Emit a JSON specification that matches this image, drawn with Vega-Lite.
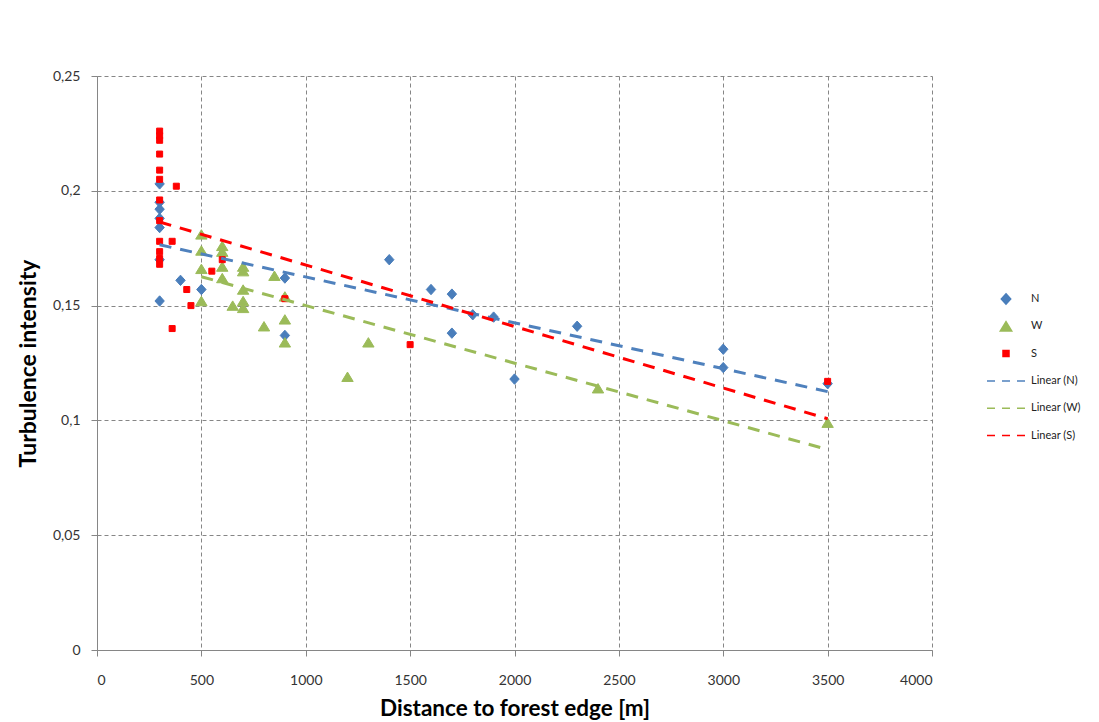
{
  "$schema": "https://vega.github.io/schema/vega-lite/v6.json",
  "width": 835,
  "height": 574,
  "autosize": {"type": "none"},
  "padding": {"left": 97, "top": 76, "right": 167, "bottom": 72},
  "background": "white",
  "config": {
    "view": {"stroke": null},
    "font": "Lato",
    "locale": {"number": {"decimal": ",", "thousands": ".", "grouping": [3], "currency": ["", ""]}},
    "axis": {
      "domainColor": "#868686",
      "tickColor": "#868686",
      "gridColor": "#868686",
      "gridDash": [4, 3],
      "gridWidth": 1,
      "labelFont": "Lato",
      "labelFontSize": 14,
      "labelColor": "#333333",
      "titleFont": "Lato",
      "titleFontWeight": "bold",
      "titleFontSize": 23,
      "titleColor": "#000000"
    },
    "legend": {
      "orient": "none",
      "legendX": 898,
      "legendY": 212,
      "padding": 0,
      "symbolSize": 400,
      "symbolStrokeWidth": 1.5,
      "labelFont": "Lato",
      "labelFontSize": 11,
      "labelColor": "#222222",
      "labelOffset": 14,
      "rowPadding": 7.3,
      "gridAlign": "all",
      "title": null
    }
  },
  "data": {
    "values": [
      {"series": "N", "trend": "Linear (N)", "x": 300, "y": 0.203},
      {"series": "N", "trend": "Linear (N)", "x": 300, "y": 0.195},
      {"series": "N", "trend": "Linear (N)", "x": 300, "y": 0.192},
      {"series": "N", "trend": "Linear (N)", "x": 300, "y": 0.188},
      {"series": "N", "trend": "Linear (N)", "x": 300, "y": 0.184},
      {"series": "N", "trend": "Linear (N)", "x": 300, "y": 0.170},
      {"series": "N", "trend": "Linear (N)", "x": 300, "y": 0.152},
      {"series": "N", "trend": "Linear (N)", "x": 400, "y": 0.161},
      {"series": "N", "trend": "Linear (N)", "x": 500, "y": 0.157},
      {"series": "N", "trend": "Linear (N)", "x": 900, "y": 0.162},
      {"series": "N", "trend": "Linear (N)", "x": 900, "y": 0.137},
      {"series": "N", "trend": "Linear (N)", "x": 1400, "y": 0.170},
      {"series": "N", "trend": "Linear (N)", "x": 1600, "y": 0.157},
      {"series": "N", "trend": "Linear (N)", "x": 1700, "y": 0.155},
      {"series": "N", "trend": "Linear (N)", "x": 1700, "y": 0.138},
      {"series": "N", "trend": "Linear (N)", "x": 1800, "y": 0.146},
      {"series": "N", "trend": "Linear (N)", "x": 1900, "y": 0.145},
      {"series": "N", "trend": "Linear (N)", "x": 2000, "y": 0.118},
      {"series": "N", "trend": "Linear (N)", "x": 2300, "y": 0.141},
      {"series": "N", "trend": "Linear (N)", "x": 3000, "y": 0.131},
      {"series": "N", "trend": "Linear (N)", "x": 3000, "y": 0.123},
      {"series": "N", "trend": "Linear (N)", "x": 3500, "y": 0.116},
      {"series": "W", "trend": "Linear (W)", "x": 500, "y": 0.181},
      {"series": "W", "trend": "Linear (W)", "x": 500, "y": 0.174},
      {"series": "W", "trend": "Linear (W)", "x": 500, "y": 0.166},
      {"series": "W", "trend": "Linear (W)", "x": 500, "y": 0.152},
      {"series": "W", "trend": "Linear (W)", "x": 600, "y": 0.176},
      {"series": "W", "trend": "Linear (W)", "x": 600, "y": 0.1735},
      {"series": "W", "trend": "Linear (W)", "x": 600, "y": 0.167},
      {"series": "W", "trend": "Linear (W)", "x": 600, "y": 0.162},
      {"series": "W", "trend": "Linear (W)", "x": 650, "y": 0.150},
      {"series": "W", "trend": "Linear (W)", "x": 700, "y": 0.167},
      {"series": "W", "trend": "Linear (W)", "x": 700, "y": 0.165},
      {"series": "W", "trend": "Linear (W)", "x": 700, "y": 0.157},
      {"series": "W", "trend": "Linear (W)", "x": 700, "y": 0.152},
      {"series": "W", "trend": "Linear (W)", "x": 700, "y": 0.149},
      {"series": "W", "trend": "Linear (W)", "x": 800, "y": 0.141},
      {"series": "W", "trend": "Linear (W)", "x": 850, "y": 0.163},
      {"series": "W", "trend": "Linear (W)", "x": 900, "y": 0.154},
      {"series": "W", "trend": "Linear (W)", "x": 900, "y": 0.144},
      {"series": "W", "trend": "Linear (W)", "x": 900, "y": 0.134},
      {"series": "W", "trend": "Linear (W)", "x": 1200, "y": 0.119},
      {"series": "W", "trend": "Linear (W)", "x": 1300, "y": 0.134},
      {"series": "W", "trend": "Linear (W)", "x": 2400, "y": 0.114},
      {"series": "W", "trend": "Linear (W)", "x": 3500, "y": 0.099},
      {"series": "S", "trend": "Linear (S)", "x": 300, "y": 0.226},
      {"series": "S", "trend": "Linear (S)", "x": 300, "y": 0.224},
      {"series": "S", "trend": "Linear (S)", "x": 300, "y": 0.222},
      {"series": "S", "trend": "Linear (S)", "x": 300, "y": 0.216},
      {"series": "S", "trend": "Linear (S)", "x": 300, "y": 0.209},
      {"series": "S", "trend": "Linear (S)", "x": 300, "y": 0.205},
      {"series": "S", "trend": "Linear (S)", "x": 300, "y": 0.196},
      {"series": "S", "trend": "Linear (S)", "x": 300, "y": 0.187},
      {"series": "S", "trend": "Linear (S)", "x": 300, "y": 0.178},
      {"series": "S", "trend": "Linear (S)", "x": 300, "y": 0.1735},
      {"series": "S", "trend": "Linear (S)", "x": 300, "y": 0.1705},
      {"series": "S", "trend": "Linear (S)", "x": 300, "y": 0.168},
      {"series": "S", "trend": "Linear (S)", "x": 360, "y": 0.178},
      {"series": "S", "trend": "Linear (S)", "x": 360, "y": 0.140},
      {"series": "S", "trend": "Linear (S)", "x": 380, "y": 0.202},
      {"series": "S", "trend": "Linear (S)", "x": 430, "y": 0.157},
      {"series": "S", "trend": "Linear (S)", "x": 450, "y": 0.150},
      {"series": "S", "trend": "Linear (S)", "x": 550, "y": 0.165},
      {"series": "S", "trend": "Linear (S)", "x": 600, "y": 0.170},
      {"series": "S", "trend": "Linear (S)", "x": 900, "y": 0.153},
      {"series": "S", "trend": "Linear (S)", "x": 1500, "y": 0.133},
      {"series": "S", "trend": "Linear (S)", "x": 3500, "y": 0.117}
    ]
  },
  "layer": [
    {
      "mark": {"type": "point", "filled": true, "size": 400, "strokeWidth": 1, "opacity": 1},
      "encoding": {
        "x": {
          "field": "x", "type": "quantitative",
          "scale": {"domain": [0, 4000], "nice": false, "zero": true},
          "axis": {"values": [0, 500, 1000, 1500, 2000, 2500, 3000, 3500, 4000], "format": "d", "title": "Distance to forest edge [m]", "titleFontSize": 22.5, "tickSize": 6, "labelPadding": 17, "titlePadding": 10}
        },
        "y": {
          "field": "y", "type": "quantitative",
          "scale": {"domain": [0, 0.25], "nice": false},
          "axis": {"values": [0, 0.05, 0.1, 0.15, 0.2, 0.25], "format": "~g", "title": "Turbulence intensity", "tickSize": 6, "labelPadding": 11, "titlePadding": 12}
        },
        "color": {
          "field": "series", "type": "nominal",
          "scale": {"domain": ["N", "W", "S", "Linear (N)", "Linear (W)", "Linear (S)"], "range": ["#4A7EBB", "#9BBB59", "#FF0000", "#4F81BD", "#9BBB59", "#FF0000"]}
        },
        "stroke": {
          "field": "series", "type": "nominal",
          "scale": {"domain": ["N", "W", "S", "Linear (N)", "Linear (W)", "Linear (S)"], "range": ["#4A7EBB", "#9BBB59", "#FF0000", "#4F81BD", "#9BBB59", "#FF0000"]}
        },
        "shape": {
          "field": "series", "type": "nominal",
          "scale": {"domain": ["N", "W", "S", "Linear (N)", "Linear (W)", "Linear (S)"], "range": ["M0,-0.52L0.47,0L0,0.52L-0.47,0Z", "M0,-0.47L0.57,0.47L-0.57,0.47Z", "M-0.3,-0.3H0.3V0.3H-0.3Z", "M-1.9,0H-1.1M-0.4,0H0.4M1.1,0H1.9", "M-1.9,0H-1.1M-0.4,0H0.4M1.1,0H1.9", "M-1.9,0H-1.1M-0.4,0H0.4M1.1,0H1.9"]}
        }
      }
    },
    {
      "transform": [{"regression": "y", "on": "x", "groupby": ["trend"]}],
      "mark": {"type": "line", "strokeWidth": 3, "strokeDash": [12, 9]},
      "encoding": {
        "x": {"field": "x", "type": "quantitative"},
        "y": {"field": "y", "type": "quantitative"},
        "color": {"field": "trend", "type": "nominal"}
      }
    }
  ]
}
